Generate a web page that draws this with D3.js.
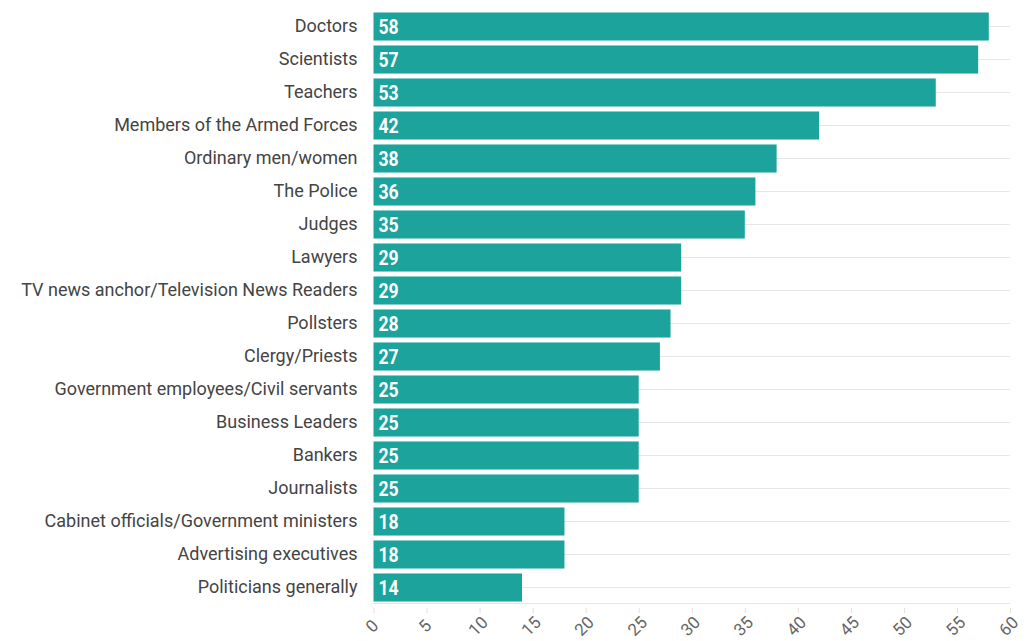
<!DOCTYPE html>
<meta charset="utf-8">
<style>
    body { margin: 0; background: #fff; }
    svg text { font-family: Roboto, sans-serif; }
    .cat text { fill: #444; font-size: 18px; }
    .val { fill: #fff; font-size: 20px; font-weight: bold; }
    .xaxis text { fill: #666; }
</style>

<svg width="1026" height="641"></svg>

<script src="https://cdn.jsdelivr.net/npm/d3@7"></script>

<script>
    var categories = [
        "Doctors", "Scientists", "Teachers", "Members of the Armed Forces",
        "Ordinary men/women", "The Police", "Judges", "Lawyers",
        "TV news anchor/Television News Readers", "Pollsters", "Clergy/Priests",
        "Government employees/Civil servants", "Business Leaders", "Bankers",
        "Journalists", "Cabinet officials/Government ministers",
        "Advertising executives", "Politicians generally"
    ];
    var values = [58, 57, 53, 42, 38, 36, 35, 29, 29, 28, 27, 25, 25, 25, 25, 18, 18, 14];
    var xTicks = [0, 5, 10, 15, 20, 25, 30, 35, 40, 45, 50, 55, 60];

    (function () {
        var svg = d3.select("svg"),
            left = 373.5,
            right = 1010,
            top = 10,
            bottom = 604,
            barColor = "#1ba39c";

        var x = d3.scaleLinear().domain([0, 60]).range([left, right]);
        var y = d3.scaleBand().domain(categories).range([top, bottom]).paddingInner(0.15).paddingOuter(0.075);

        // row gridlines
        svg.append("g").selectAll("line")
            .data(categories)
            .enter().append("line")
            .attr("x1", left).attr("x2", right)
            .attr("y1", function (d) { return y(d) + y.bandwidth() / 2; })
            .attr("y2", function (d) { return y(d) + y.bandwidth() / 2; })
            .attr("stroke", "#e6e6e6");

        svg.append("line")
            .attr("x1", left).attr("x2", right)
            .attr("y1", bottom - 0.5).attr("y2", bottom - 0.5)
            .attr("stroke", "#e6e6e6");

        svg.append("g").selectAll("rect")
            .data(values)
            .enter().append("rect")
            .attr("x", x(0))
            .attr("y", function (d, i) { return y(categories[i]); })
            .attr("width", function (d) { return x(d) - x(0); })
            .attr("height", y.bandwidth())
            .attr("fill", barColor);

        svg.append("g").selectAll("text")
            .data(values)
            .enter().append("text")
            .attr("class", "val")
            .attr("transform", function (d, i) {
                return "translate(" + [x(0) + 5, y(categories[i]) + y.bandwidth() / 2] + ") scale(0.88,1)";
            })
            .attr("dy", "0.36em")
            .text(function (d) { return d; });

        var yAxis = svg.append("g")
            .attr("class", "cat")
            .attr("transform", "translate(" + [left - 16, 0] + ")")
            .call(d3.axisLeft(y).tickSize(0).tickPadding(0));
        yAxis.select(".domain").remove();
        yAxis.selectAll("text")
            .attr("font-size", null).attr("font-family", null);

        var xAxis = svg.append("g")
            .attr("class", "xaxis")
            .attr("transform", "translate(" + [0, bottom + 4] + ")")
            .call(d3.axisBottom(x).tickValues(xTicks).tickSize(5).tickPadding(0));
        xAxis.select(".domain").remove();
        xAxis.selectAll("line").attr("stroke", "#e0e0e0");
        xAxis.selectAll("text")
            .style("font-size", "17px")
            .attr("y", 0).attr("dy", null)
            .attr("text-anchor", "middle")
            .attr("transform", "translate(-1,19) rotate(-45)")
            .attr("dominant-baseline", "middle");
    })();
</script>
